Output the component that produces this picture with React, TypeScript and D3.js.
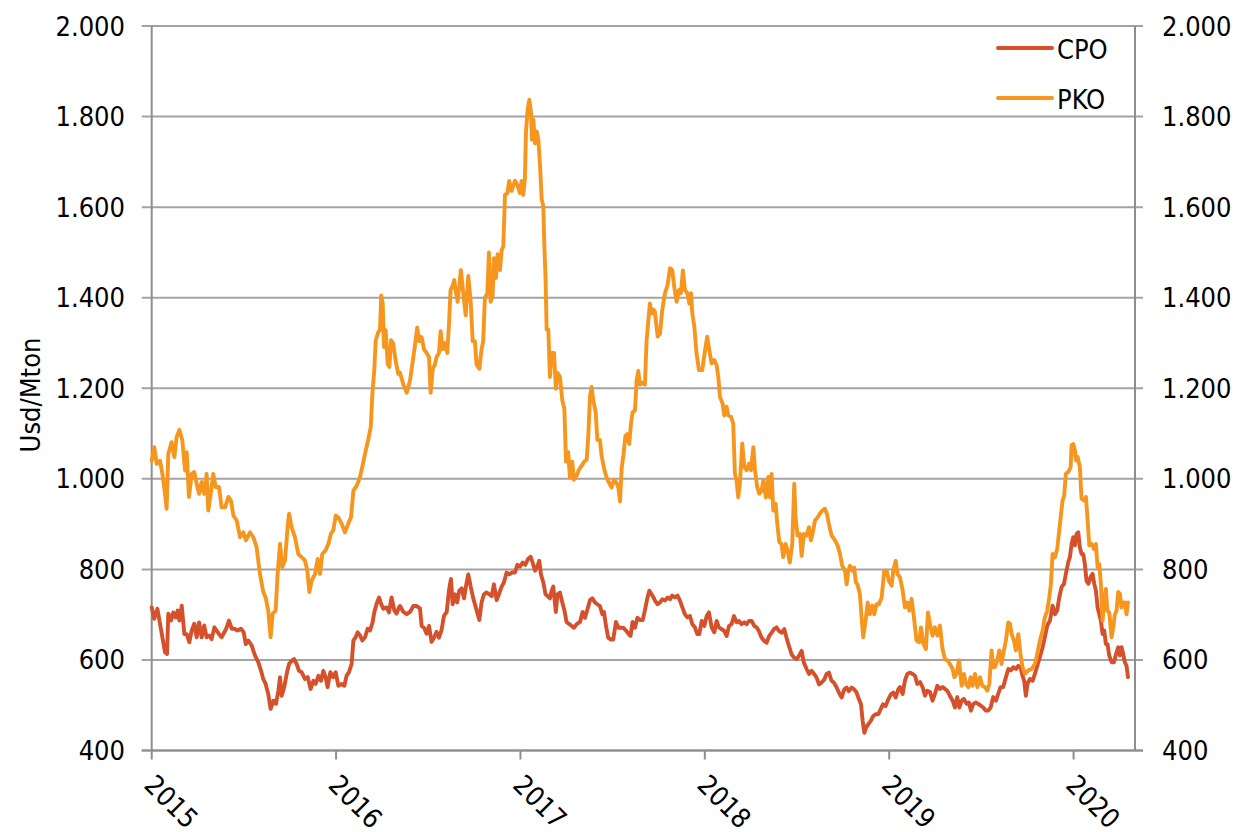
import React from "react";
import * as d3 from "d3";

// ---- data ----
const yearTicks = [2015, 2016, 2017, 2018, 2019, 2020];
const valueTicks = [400, 600, 800, 1000, 1200, 1400, 1600, 1800, 2000];
const seriesNames = ["CPO", "PKO"];
const seriesColors = ["#D5502B", "#F7961F"];

// PKO – dates as decimal years, values in USD/Mton
const pkoDates = [
  2015.000, 2015.014, 2015.027, 2015.045, 2015.058, 2015.072, 2015.081, 2015.090, 2015.108, 2015.123,
  2015.135, 2015.150, 2015.166, 2015.181, 2015.190, 2015.202, 2015.217, 2015.231, 2015.244, 2015.257,
  2015.271, 2015.285, 2015.298, 2015.307, 2015.320, 2015.334, 2015.347, 2015.365, 2015.379, 2015.398,
  2015.416, 2015.430, 2015.443, 2015.461, 2015.479, 2015.497, 2015.511, 2015.533, 2015.551, 2015.569,
  2015.587, 2015.605, 2015.618, 2015.632, 2015.645, 2015.656, 2015.672, 2015.683, 2015.696, 2015.708,
  2015.723, 2015.737, 2015.745, 2015.759, 2015.777, 2015.795, 2015.813, 2015.831, 2015.844, 2015.855,
  2015.868, 2015.886, 2015.900, 2015.913, 2015.925, 2015.943, 2015.958, 2015.972, 2015.985, 2015.998,
  2016.012, 2016.030, 2016.048, 2016.066, 2016.081, 2016.094, 2016.112, 2016.130, 2016.142, 2016.157,
  2016.175, 2016.188, 2016.197, 2016.207, 2016.215, 2016.229, 2016.238, 2016.245, 2016.253, 2016.260,
  2016.269, 2016.280, 2016.289, 2016.298, 2016.310, 2016.323, 2016.337,
  2016.347, 2016.365, 2016.383, 2016.401, 2016.419, 2016.428, 2016.440, 2016.451, 2016.464, 2016.477,
  2016.491, 2016.504, 2016.513, 2016.524, 2016.536, 2016.545, 2016.558, 2016.567, 2016.578, 2016.591,
  2016.603, 2016.612, 2016.621, 2016.632, 2016.641, 2016.648, 2016.659, 2016.666, 2016.677, 2016.690,
  2016.703, 2016.717, 2016.730, 2016.741, 2016.753, 2016.762, 2016.777, 2016.789, 2016.798, 2016.807,
  2016.820, 2016.829, 2016.838, 2016.849, 2016.856, 2016.867, 2016.876, 2016.889, 2016.898, 2016.907,
  2016.916, 2016.929, 2016.939, 2016.952, 2016.970, 2016.983, 2016.997, 2017.006, 2017.015, 2017.024,
  2017.030, 2017.039, 2017.048, 2017.057, 2017.062, 2017.070, 2017.079, 2017.088, 2017.097, 2017.106,
  2017.115, 2017.124, 2017.129, 2017.136, 2017.142, 2017.151, 2017.160, 2017.169, 2017.182, 2017.192,
  2017.201, 2017.214, 2017.227, 2017.238, 2017.247, 2017.259, 2017.268, 2017.281, 2017.290, 2017.305,
  2017.317, 2017.332, 2017.346, 2017.359, 2017.368, 2017.377, 2017.386, 2017.395, 2017.408, 2017.417,
  2017.431, 2017.440, 2017.453, 2017.467, 2017.482, 2017.494, 2017.507, 2017.522, 2017.531, 2017.540,
  2017.549, 2017.558, 2017.569, 2017.579, 2017.590, 2017.599, 2017.608, 2017.621, 2017.630, 2017.639,
  2017.648, 2017.661, 2017.675, 2017.684, 2017.697, 2017.702, 2017.711, 2017.720,
  2017.729, 2017.744, 2017.757, 2017.769, 2017.784, 2017.798, 2017.811, 2017.823, 2017.834, 2017.847,
  2017.860, 2017.870, 2017.881, 2017.892, 2017.905, 2017.916, 2017.925, 2017.932, 2017.943, 2017.955,
  2017.968, 2017.986, 2018.001, 2018.013, 2018.024, 2018.037, 2018.051, 2018.064, 2018.073, 2018.082,
  2018.096, 2018.105, 2018.118, 2018.127, 2018.142, 2018.154, 2018.163, 2018.172, 2018.181, 2018.190,
  2018.203, 2018.214, 2018.227, 2018.239, 2018.250, 2018.263, 2018.272, 2018.284, 2018.295, 2018.308,
  2018.317, 2018.331, 2018.344, 2018.353, 2018.362, 2018.371, 2018.384, 2018.393, 2018.404, 2018.416,
  2018.425, 2018.438, 2018.449, 2018.461, 2018.474, 2018.485, 2018.492, 2018.503, 2018.516, 2018.525,
  2018.537, 2018.552, 2018.565, 2018.575, 2018.588, 2018.597, 2018.612, 2018.624, 2018.637, 2018.651,
  2018.662, 2018.673, 2018.687, 2018.706, 2018.720, 2018.733, 2018.745, 2018.760, 2018.769, 2018.778,
  2018.787, 2018.800, 2018.810, 2018.819, 2018.828, 2018.841, 2018.850, 2018.859, 2018.872, 2018.883,
  2018.895, 2018.908, 2018.919, 2018.931, 2018.944, 2018.959, 2018.973, 2018.986, 2018.998, 2019.013,
  2019.022, 2019.035, 2019.045,
  2019.058, 2019.073, 2019.085, 2019.098, 2019.109, 2019.121, 2019.134, 2019.148, 2019.163, 2019.172,
  2019.185, 2019.199, 2019.210, 2019.221, 2019.235, 2019.248, 2019.261, 2019.275, 2019.289, 2019.302,
  2019.317, 2019.329, 2019.344, 2019.353, 2019.365, 2019.378, 2019.393, 2019.405, 2019.416, 2019.429,
  2019.441, 2019.452, 2019.465, 2019.478, 2019.492, 2019.505, 2019.519, 2019.532, 2019.543, 2019.555,
  2019.564, 2019.573, 2019.586, 2019.597, 2019.609, 2019.622, 2019.633, 2019.646, 2019.655, 2019.664,
  2019.676, 2019.687, 2019.700, 2019.712, 2019.723, 2019.736, 2019.754, 2019.772, 2019.790, 2019.803,
  2019.817, 2019.832, 2019.844, 2019.857, 2019.868, 2019.877, 2019.886, 2019.899, 2019.911, 2019.922,
  2019.931, 2019.940, 2019.949, 2019.958, 2019.971, 2019.984, 2019.989, 2019.998, 2020.007, 2020.013,
  2020.022, 2020.034, 2020.043, 2020.056, 2020.067, 2020.076, 2020.085, 2020.098, 2020.110, 2020.121,
  2020.130, 2020.139, 2020.148, 2020.157, 2020.166, 2020.175, 2020.183, 2020.193, 2020.206, 2020.215,
  2020.224, 2020.233, 2020.242, 2020.251, 2020.260, 2020.269, 2020.278, 2020.287, 2020.295,
];
const pkoValues = [
  1040, 1070, 1033, 1040, 1011, 967, 934, 1055, 1081, 1048,
  1092, 1108, 1085, 1018, 1059, 960, 1011, 1015, 989, 967,
  993, 967, 1011, 930, 967, 1011, 982, 982, 937, 937,
  960, 952, 919, 908, 871, 882, 864, 882, 871, 849,
  790, 750, 738, 709, 650, 702, 709, 790, 856, 805,
  820, 893, 923, 893, 871, 834, 827, 820, 797, 750,
  775, 790, 823, 790, 834, 842, 856, 879, 886, 919,
  915, 901, 882, 901, 915, 974, 985, 1004, 1026, 1055,
  1088, 1114, 1188, 1239, 1306, 1324, 1328, 1405, 1387, 1291,
  1328, 1254, 1247, 1306, 1298, 1261, 1232,
  1234, 1208, 1190, 1217, 1269, 1295, 1334, 1304, 1313, 1286,
  1278, 1269, 1190, 1243, 1252, 1269, 1278, 1326, 1286, 1300,
  1278, 1339, 1417, 1426, 1439, 1417, 1391, 1417, 1461, 1409,
  1361, 1448, 1391, 1304, 1304, 1252, 1243, 1286, 1304, 1400,
  1409, 1500, 1391, 1404, 1487, 1444, 1496, 1461, 1505, 1514,
  1627, 1631, 1658, 1636, 1658, 1649, 1631, 1658, 1627, 1662,
  1767, 1815, 1837, 1810, 1749, 1793, 1741, 1767, 1749, 1693,
  1618, 1601, 1522, 1444, 1330, 1330, 1225, 1278, 1278, 1199,
  1234, 1225, 1173, 1155, 1038, 1059, 1003, 1038, 998, 1007,
  1020, 1029, 1038, 1042, 1094, 1182, 1203, 1173, 1147, 1086,
  1086, 1051, 1024, 1003, 990, 981, 998, 990, 981, 950,
  1024, 1051, 1094, 1099, 1077, 1120, 1147, 1151, 1217, 1238,
  1208, 1212, 1208, 1304, 1365, 1387, 1365, 1374,
  1369, 1314, 1321, 1373, 1410, 1428, 1465, 1461, 1424, 1391,
  1417, 1410, 1460, 1417, 1410, 1387, 1410, 1365, 1336, 1277,
  1240, 1240, 1284, 1314, 1284, 1255, 1262, 1251, 1225, 1181,
  1166, 1140, 1159, 1140, 1137, 1122, 1011, 996, 959, 989,
  1078, 1026, 1019, 1033, 1019, 1070, 1019, 982, 967, 974,
  996, 959, 1004, 959, 1011, 930, 945, 900, 860, 856,
  827, 856, 841, 815, 856, 989, 915, 875, 878, 830,
  878, 875, 893, 864, 886, 908, 915, 923, 930, 934,
  923, 900, 875, 864, 853, 834, 808, 797, 767, 797,
  808, 797, 804, 771, 767, 745, 694, 650, 687, 727,
  701, 720, 701, 723, 723, 738, 797, 797, 775, 764,
  797, 819, 789,
  783, 753, 716, 727, 709, 735, 694, 643, 639, 672,
  636, 624, 705, 679, 654, 672, 654, 676, 624, 602,
  599, 591, 580, 562, 569, 599, 543, 569, 547, 540,
  562, 543, 569, 540, 562, 543, 540, 532, 547, 621,
  584, 584, 599, 621, 591, 621, 643, 683, 680, 657,
  643, 621, 657, 613, 584, 569, 577, 580, 591, 613,
  643, 665, 694, 709, 738, 768, 834, 827, 845, 886,
  919, 952, 963, 1011, 1015, 1026, 1074, 1077, 1063, 1041,
  1048, 1026, 956, 952, 960, 908, 853, 856, 845, 856,
  805, 812, 768, 687, 731, 757, 709, 705, 650, 672,
  701, 709, 750, 746, 716, 727, 727, 701, 727,
];

// CPO – dates as decimal years, values in USD/Mton
const cpoDates = [
  2015.000, 2015.014, 2015.031, 2015.045, 2015.058, 2015.072, 2015.083, 2015.090, 2015.105, 2015.117,
  2015.130, 2015.141, 2015.150, 2015.163, 2015.177, 2015.190, 2015.204, 2015.217, 2015.231, 2015.244,
  2015.257, 2015.271, 2015.285, 2015.298, 2015.311, 2015.325, 2015.340, 2015.352, 2015.365, 2015.379,
  2015.394, 2015.407, 2015.419, 2015.434, 2015.448, 2015.466, 2015.484, 2015.499, 2015.510, 2015.524,
  2015.542, 2015.560, 2015.578, 2015.593, 2015.605, 2015.618, 2015.632, 2015.645, 2015.660, 2015.674,
  2015.687, 2015.696, 2015.705, 2015.719, 2015.732, 2015.745, 2015.759, 2015.772, 2015.786, 2015.799,
  2015.813, 2015.831, 2015.846, 2015.862, 2015.877, 2015.889, 2015.904, 2015.918, 2015.931, 2015.943,
  2015.954, 2015.969, 2015.985, 2015.998, 2016.012, 2016.030, 2016.045, 2016.057, 2016.070, 2016.084,
  2016.094, 2016.106, 2016.117, 2016.130, 2016.142, 2016.157, 2016.171, 2016.184, 2016.198, 2016.207,
  2016.220, 2016.233, 2016.244, 2016.256, 2016.274, 2016.287, 2016.301, 2016.316, 2016.328, 2016.341,
  2016.347, 2016.365, 2016.383, 2016.401, 2016.419, 2016.437, 2016.455, 2016.464, 2016.477, 2016.491,
  2016.504, 2016.518, 2016.531, 2016.545, 2016.558, 2016.572, 2016.585, 2016.600, 2016.612, 2016.623,
  2016.632, 2016.645, 2016.657, 2016.668, 2016.681, 2016.694, 2016.704, 2016.717, 2016.730, 2016.744,
  2016.762, 2016.777, 2016.789, 2016.802, 2016.816, 2016.831, 2016.844, 2016.856, 2016.871, 2016.883,
  2016.898, 2016.910, 2016.925, 2016.939, 2016.954, 2016.970, 2016.983, 2016.997, 2017.012, 2017.026,
  2017.041, 2017.055, 2017.066, 2017.079, 2017.091, 2017.102, 2017.111, 2017.124, 2017.136, 2017.147,
  2017.160, 2017.169, 2017.178, 2017.192, 2017.201, 2017.214, 2017.227, 2017.238, 2017.250, 2017.265,
  2017.278, 2017.290, 2017.305, 2017.323, 2017.337, 2017.350, 2017.362, 2017.377, 2017.390, 2017.404,
  2017.417, 2017.431, 2017.444, 2017.453, 2017.464, 2017.476, 2017.491, 2017.503, 2017.518, 2017.531,
  2017.543, 2017.558, 2017.570, 2017.585, 2017.597, 2017.608, 2017.621, 2017.634, 2017.648, 2017.663,
  2017.675, 2017.688, 2017.699, 2017.711, 2017.724,
  2017.729, 2017.744, 2017.757, 2017.769, 2017.784, 2017.798, 2017.811, 2017.823, 2017.838, 2017.852,
  2017.865, 2017.878, 2017.892, 2017.905, 2017.919, 2017.932, 2017.946, 2017.959, 2017.970, 2017.983,
  2017.997, 2018.010, 2018.022, 2018.037, 2018.051, 2018.064, 2018.076, 2018.091, 2018.105, 2018.118,
  2018.131, 2018.145, 2018.158, 2018.172, 2018.185, 2018.199, 2018.214, 2018.227, 2018.239, 2018.254,
  2018.268, 2018.281, 2018.293, 2018.308, 2018.322, 2018.335, 2018.349, 2018.362, 2018.375, 2018.389,
  2018.402, 2018.416, 2018.431, 2018.443, 2018.456, 2018.471, 2018.485, 2018.498, 2018.510, 2018.525,
  2018.537, 2018.552, 2018.565, 2018.579, 2018.593, 2018.606, 2018.619, 2018.633, 2018.648, 2018.660,
  2018.673, 2018.687, 2018.700, 2018.715, 2018.727, 2018.742, 2018.756, 2018.769, 2018.781, 2018.796,
  2018.810, 2018.823, 2018.836, 2018.847, 2018.856, 2018.865, 2018.874, 2018.886, 2018.899, 2018.913,
  2018.926, 2018.941, 2018.953, 2018.966, 2018.980, 2018.995, 2019.009, 2019.022, 2019.035, 2019.049,
  2019.058, 2019.073, 2019.085, 2019.098, 2019.112, 2019.127, 2019.140, 2019.152, 2019.167, 2019.181,
  2019.194, 2019.206, 2019.221, 2019.235, 2019.248, 2019.261, 2019.275, 2019.289, 2019.302, 2019.315,
  2019.329, 2019.344, 2019.356, 2019.369, 2019.380, 2019.393, 2019.405, 2019.420, 2019.432, 2019.443,
  2019.456, 2019.470, 2019.483, 2019.496, 2019.510, 2019.524, 2019.537, 2019.550, 2019.564, 2019.579,
  2019.591, 2019.604, 2019.618, 2019.633, 2019.646, 2019.660, 2019.673, 2019.687, 2019.700, 2019.712,
  2019.723, 2019.732, 2019.741, 2019.750, 2019.763, 2019.778, 2019.790, 2019.803, 2019.817, 2019.832,
  2019.844, 2019.857, 2019.872, 2019.886, 2019.899, 2019.911, 2019.922, 2019.935, 2019.948, 2019.958,
  2019.971, 2019.980, 2019.989, 2019.998, 2020.007, 2020.016, 2020.025, 2020.034, 2020.043, 2020.052,
  2020.061, 2020.070, 2020.080, 2020.092, 2020.103, 2020.112, 2020.121, 2020.130, 2020.139, 2020.148,
  2020.157, 2020.166, 2020.175, 2020.184, 2020.193, 2020.206, 2020.219, 2020.230, 2020.242, 2020.251,
  2020.260, 2020.269, 2020.278, 2020.287, 2020.295,
];
const cpoValues = [
  716, 691, 713, 680, 650, 617, 613, 702, 687, 705,
  694, 709, 687, 720, 657, 657, 639, 665, 680, 650,
  683, 650, 676, 650, 654, 646, 672, 665, 657, 650,
  661, 672, 687, 669, 669, 665, 669, 661, 635, 643,
  632, 610, 595, 576, 558, 547, 525, 492, 510, 503,
  532, 562, 521, 540, 569, 591, 598, 602, 591, 576,
  573, 558, 562, 536, 554, 547, 565, 554, 576, 562,
  540, 573, 562, 573, 543, 547, 543, 565, 573, 591,
  643, 650, 661, 654, 643, 650, 669, 665, 683, 705,
  724, 738, 724, 713, 716, 705, 738, 709, 702, 716,
  719, 706, 701, 706, 719, 719, 714, 675, 671, 658,
  675, 640, 649, 662, 649, 666, 697, 706, 753, 779,
  723, 745, 727, 753, 758, 736, 762, 789, 762, 736,
  710, 688, 727, 745, 749, 745, 741, 767, 732, 745,
  762, 771, 793, 789, 793, 793, 810, 806, 815, 810,
  823, 828, 815, 797, 806, 819, 789, 771, 745, 741,
  736, 753, 762, 706, 745, 749, 727, 710, 684, 679,
  675, 671, 679, 684, 706, 693, 710, 732, 736, 727,
  723, 719, 701, 706, 675, 649, 645, 645, 684, 671,
  671, 671, 666, 658, 653, 684, 671, 693, 688, 688,
  710, 736, 753, 745, 736,
  731, 723, 727, 734, 731, 738, 734, 742, 738, 742,
  731, 716, 701, 694, 697, 679, 672, 657, 657, 686,
  675, 697, 705, 672, 661, 686, 672, 668, 664, 653,
  675, 679, 697, 683, 686, 679, 683, 679, 686, 686,
  675, 672, 664, 649, 642, 638, 653, 660, 668, 672,
  664, 660, 668, 649, 631, 612, 605, 602, 609, 620,
  594, 580, 569, 576, 569, 561, 546, 550, 557, 569,
  572, 554, 550, 539, 528, 517, 535, 539, 531, 539,
  535, 528, 513, 502, 465, 439, 450, 458, 465, 476,
  480, 480, 491, 502, 498, 513, 524, 528, 517, 535,
  540, 525, 554, 569, 572, 569, 565, 547, 551, 540,
  521, 532, 529, 510, 525, 543, 536, 540, 536, 532,
  521, 510, 495, 518, 495, 510, 514, 503, 506, 488,
  503, 506, 503, 499, 495, 488, 488, 495, 518, 510,
  525, 540, 540, 562, 580, 577, 584, 580, 587, 584,
  565, 554, 521, 547, 558, 554, 569, 587, 606, 628,
  650, 676, 687, 720, 701, 709, 738, 761, 768, 790,
  816, 827, 856, 871, 853, 878, 882, 849, 834, 834,
  812, 775, 768, 783, 790, 768, 753, 716, 701, 687,
  657, 665, 635, 635, 610, 595, 595, 613, 628, 610,
  628, 613, 595, 587, 562,
];

const axisTitle = "Usd/Mton";

// ---- layout ----
const W = 1254;
const H = 832;
const FONT = "'DejaVu Sans Condensed', 'DejaVu Sans', sans-serif";
const FS = 27;

const locale = d3.formatLocale({ decimal: ",", thousands: ".", grouping: [3], currency: ["", ""] });
const fmt = locale.format(",");

export default function App() {
  const x = d3.scaleLinear().domain([2015, 2020.333]).range([151.7, 1135]);
  const y = d3.scaleLinear().domain([400, 2000]).range([750.5, 26]);
  const left = x.range()[0];
  const right = x.range()[1];
  const bottom = y.range()[0];
  const top = y.range()[1];

  const mk = (dates: number[], values: number[]) =>
    d3
      .line<number>()
      .x((_, i) => x(dates[i]))
      .y((v) => y(v))(values) || "";

  const paths = [mk(cpoDates, cpoValues), mk(pkoDates, pkoValues)];

  return (
    <div style={{ position: "absolute", left: 0, top: 0 }}>
      <svg width={W} height={H} style={{ display: "block", background: "#fff" }}>
        {/* gridlines */}
        {valueTicks.map((v) => (
          <line key={"g" + v} x1={left - 10} x2={right + 8} y1={y(v)} y2={y(v)} stroke="#a3a3a3" strokeWidth={2} />
        ))}
        {/* axes */}
        <line x1={left} x2={left} y1={top} y2={bottom} stroke="#8e8e8e" strokeWidth={2} />
        <line x1={right} x2={right} y1={top} y2={bottom} stroke="#8e8e8e" strokeWidth={2} />
        <line x1={left - 10} x2={right + 8} y1={bottom} y2={bottom} stroke="#8e8e8e" strokeWidth={2} />
        {yearTicks.map((t) => (
          <line key={"t" + t} x1={x(t)} x2={x(t)} y1={bottom} y2={bottom + 9} stroke="#8e8e8e" strokeWidth={2} />
        ))}
        {/* y labels */}
        {valueTicks.map((v) => (
          <g key={"l" + v} fontFamily={FONT} fontSize={FS} fill="#000">
            <text x={125} y={y(v) + 9.5} textAnchor="end">{fmt(v)}</text>
            <text x={1162} y={y(v) + 9.5} textAnchor="start">{fmt(v)}</text>
          </g>
        ))}
        {/* x labels */}
        {yearTicks.map((t) => (
          <text
            key={"xl" + t}
            transform={`translate(${x(t) - 9},${bottom + 36}) rotate(45)`}
            fontFamily={FONT}
            fontSize={FS}
            fill="#000"
          >
            {t}
          </text>
        ))}
        {/* axis title */}
        <text
          transform={`translate(40,395) rotate(-90)`}
          textAnchor="middle"
          fontFamily={FONT}
          fontSize={FS}
          fill="#000"
        >
          {axisTitle}
        </text>
        {/* series */}
        {paths.map((p, i) => (
          <path key={"p" + i} d={p} fill="none" stroke={seriesColors[i]} strokeWidth={3.9} strokeLinejoin="round" strokeLinecap="round" />
        ))}
        {/* legend */}
        {seriesNames.map((n, i) => (
          <g key={"lg" + n}>
            <line x1={998} x2={1052} y1={48 + i * 50} y2={48 + i * 50} stroke={seriesColors[i]} strokeWidth={4} strokeLinecap="round" />
            <text x={1057} y={48 + i * 50 + 11} fontFamily={FONT} fontSize={FS} fill="#000">{n}</text>
          </g>
        ))}
      </svg>
    </div>
  );
}
